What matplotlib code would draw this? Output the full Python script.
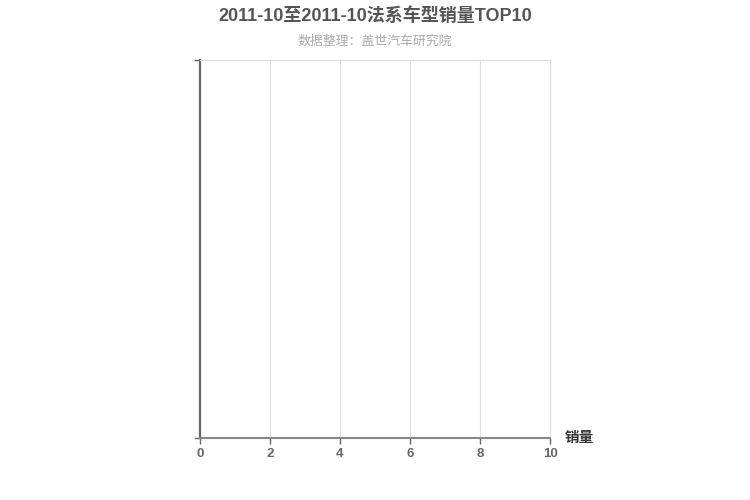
import matplotlib
matplotlib.use('Agg')
import matplotlib.pyplot as plt

# chart data (the reference shows no bars: no models reported)
models = []
sales = []
x_ticks = [0, 2, 4, 6, 8, 10]

title = '2011-10至2011-10法系车型销量TOP10'
subtitle = '数据整理：盖世汽车研究院'

plt.rcParams['font.family'] = ['Liberation Sans', 'Noto Sans CJK SC', 'DejaVu Sans']

fig = plt.figure(figsize=(7.5, 5), dpi=100)
ax = fig.add_axes([200 / 750, 1 - 438 / 500, 350 / 750, 378 / 500])

ax.barh(models, sales, color='#c23531')
ax.set_xlim(0, 10)
ax.set_ylim(0, 1)
ax.set_xticks(x_ticks)
ax.set_xticklabels([str(t) for t in x_ticks])
ax.set_yticks([0, 1])
ax.set_yticklabels([])

ax.grid(axis='x', color='#dcdcdc', linewidth=0.8)
ax.set_axisbelow(True)

for side in ['top', 'right']:
    ax.spines[side].set_color('#dcdcdc')
    ax.spines[side].set_linewidth(0.8)
ax.spines['left'].set_color('#666666')
ax.spines['left'].set_linewidth(1.6)
ax.spines['bottom'].set_color('#888888')
ax.spines['bottom'].set_linewidth(1.5)

ax.tick_params(axis='x', colors='#666666', labelcolor='#666666', labelsize=9.5,
               length=4, width=1, pad=3)
ax.tick_params(axis='y', colors='#666666', length=4, width=1)
for lab in ax.get_xticklabels():
    lab.set_fontweight('bold')

fig.text(0.5, 1 - 16 / 500, title, ha='center', va='center',
         fontsize=13, fontweight='bold', color='#555555')
fig.text(0.5, 1 - 41 / 500, subtitle, ha='center', va='center',
         fontsize=9.3, color='#aaaaaa')
fig.text(565 / 750, 1 - 438 / 500, '销量', ha='left', va='center',
         fontsize=10.5, fontweight='bold', color='#333333')

fig.savefig('out.png', dpi=100)
